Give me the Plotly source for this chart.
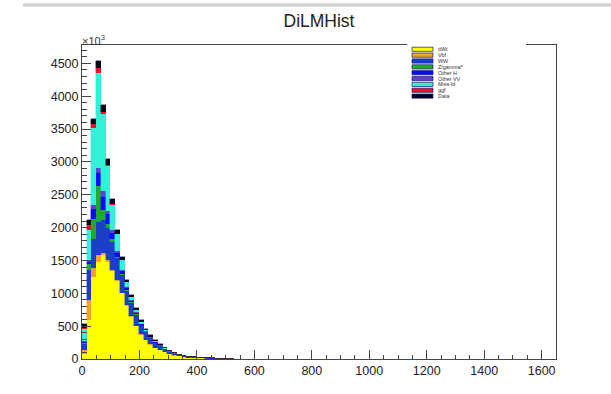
import plotly.graph_objects as go

# ---- data (per 16.5-wide bin, starting at 0) ----
bin_width = 16.5
ttWt    = [80, 600, 1250, 1480, 1580, 1480, 1340, 1180, 1000, 810, 640, 495, 370, 285, 220, 172, 135, 100, 73, 53, 39, 28, 21, 16, 12, 9, 7, 5, 4, 3, 2, 1]
Vbf     = [50, 300, 130, 100, 40, 30, 20, 15, 12, 10, 8, 7, 5, 4, 3, 2, 2, 1, 1, 1, 0, 0, 0, 0, 0, 0, 0, 0, 0, 0, 0, 0]
WW      = [100, 450, 450, 500, 500, 480, 420, 340, 270, 220, 210, 175, 140, 115, 92, 75, 60, 47, 35, 26, 20, 15, 11, 8, 6, 5, 4, 3, 2, 1, 1, 1]
Zgamma  = [10, 100, 300, 550, 150, 60, 40, 25, 15, 10, 8, 6, 5, 4, 3, 2, 2, 1, 1, 1, 1, 0, 0, 0, 0, 0, 0, 0, 0, 0, 0, 0]
OtherH  = [20, 30, 150, 200, 200, 150, 100, 60, 40, 30, 20, 16, 12, 9, 7, 6, 5, 4, 3, 2, 2, 1, 1, 1, 1, 0, 0, 0, 0, 0, 0, 0]
OtherVV = [20, 20, 60, 80, 80, 50, 40, 30, 20, 15, 12, 10, 8, 6, 5, 4, 3, 3, 2, 2, 1, 1, 1, 1, 0, 0, 0, 0, 0, 0, 0, 0]
MissId  = [170, 460, 1170, 1450, 1180, 680, 390, 250, 150, 70, 50, 35, 25, 17, 12, 9, 6, 4, 3, 2, 1, 1, 0, 0, 0, 0, 0, 0, 0, 0, 0, 0]
ggf     = [20, 75, 70, 70, 30, 20, 10, 5, 3, 2, 2, 1, 1, 0, 0, 0, 0, 0, 0, 0, 0, 0, 0, 0, 0, 0, 0, 0, 0, 0, 0, 0]
Data    = [70, 75, 80, 100, 100, 90, 70, 65, 50, 33, 20, 25, 24, 20, 18, 15, 12, 10, 7, 5, 4, 4, 3, 2, 2, 2, 1, 1, 1, 1, 1, 1]

names  = ["ttWt", "Vbf", "WW", "Z/gamma*", "Other H", "Other VV", "Miss-Id", "ggf", "Data"]
series = [ttWt, Vbf, WW, Zgamma, OtherH, OtherVV, MissId, ggf, Data]
colors = ["#ffff00", "#f5a030", "#1c3fc8", "#1faa2a", "#0a0aff", "#6040d0", "#35f0d8", "#f0102a", "#05051e"]

x_range = [0, 1650]
y_range = [0, 4779]

# ---- figure geometry (pixels) ----
W, H = 611, 394
L, R, T, B = 82, 556, 45, 359

def px2x(p):
    return (p - L) / (R - L)

def px2y(p):
    return (B - p) / (B - T)

fig = go.Figure()
for name, vals, col in zip(names, series, colors):
    centers = [(i + 0.5) * bin_width for i in range(len(vals))]
    fig.add_trace(go.Bar(
        x=centers, y=vals, width=bin_width, name=name,
        marker=dict(color=col, line=dict(color=col, width=0.4)),
        showlegend=False,
    ))

font = "Liberation Sans, Arial, Helvetica, sans-serif"
fig.update_layout(
    width=W, height=H,
    margin=dict(l=L, r=W - R, t=T, b=H - B, pad=0),
    barmode="stack", bargap=0,
    paper_bgcolor="white", plot_bgcolor="white",
    font=dict(family=font, size=12, color="#222"),
    title=dict(text="DiLMHist", x=319 / W, xanchor="center",
               y=1 - 21 / H, yanchor="middle",
               font=dict(family=font, size=17.5, color="#222")),
    xaxis=dict(range=x_range, showgrid=False, zeroline=False,
               showline=True, linecolor="#444", linewidth=1, mirror=True,
               ticks="inside", ticklen=9, tickwidth=1, tickcolor="#444",
               tick0=0, dtick=200,
               minor=dict(ticks="inside", ticklen=4, dtick=50, tickcolor="#444"),
               tickfont=dict(size=12.5, color="#222")),
    yaxis=dict(range=y_range, showgrid=False, zeroline=False,
               showline=True, linecolor="#444", linewidth=1, mirror=True,
               ticks="inside", ticklen=9, tickwidth=1, tickcolor="#444",
               tick0=0, dtick=500,
               minor=dict(ticks="inside", ticklen=5, dtick=100, tickcolor="#444"),
               tickfont=dict(size=12.5, color="#222")),
)

shapes = []
annotations = []

# thin grey canvas border line at the very top
shapes.append(dict(type="line", xref="paper", yref="paper",
                   x0=px2x(23), x1=px2x(611), y0=px2y(5), y1=px2y(5),
                   line=dict(color="#d4d4d4", width=3.5), layer="above"))

# legend box (white, covers frame line)
shapes.append(dict(type="rect", xref="paper", yref="paper",
                   x0=px2x(407), x1=px2x(526), y0=px2y(101), y1=px2y(42),
                   fillcolor="white", line=dict(width=0), layer="above"))

row0, step = 49.3, 5.85
for k, (name, col) in enumerate(zip(names, colors)):
    yc = row0 + k * step
    shapes.append(dict(type="rect", xref="paper", yref="paper",
                       x0=px2x(412), x1=px2x(433), y0=px2y(yc + 2.1), y1=px2y(yc - 2.1),
                       fillcolor=col, line=dict(color="#1a1a70", width=0.7), layer="above"))
    annotations.append(dict(xref="paper", yref="paper", x=px2x(436.5), y=px2y(yc),
                            xanchor="left", yanchor="middle", showarrow=False,
                            borderpad=0,
                            text=name, font=dict(family=font, size=5.4, color="#333")))

# x10^3 multiplier
annotations.append(dict(xref="paper", yref="paper", x=px2x(80), y=px2y(39.5),
                        xanchor="left", yanchor="middle", showarrow=False,
                        text="×10<sup>3</sup>", font=dict(family=font, size=11, color="#333")))

fig.update_layout(shapes=shapes, annotations=annotations)
fig.write_html("out.html")
